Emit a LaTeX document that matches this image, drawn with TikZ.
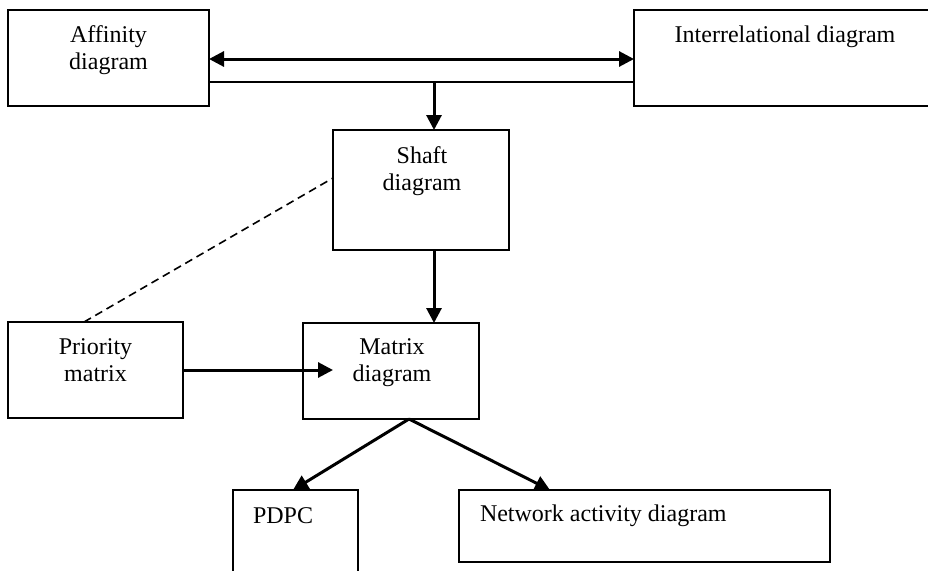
\documentclass[tikz,border=0pt]{standalone}
\usepackage{fontspec}
\setmainfont{Liberation Serif}
\usetikzlibrary{arrows.meta,calc}
\begin{document}
\begin{tikzpicture}[x=1pt,y=-1pt,
  box/.style={draw, line width=2pt, inner sep=0pt, outer sep=0pt},
  txt/.style={inner sep=0pt, outer sep=0pt, font=\fontsize{24pt}{27.6pt}\selectfont},
  tip/.tip={Triangle[length=15pt,width=15pt]},
  conn/.style={line width=3pt, -tip},
  twoway/.style={line width=3pt, tip-tip},
  rail/.style={line width=2pt},
  dashline/.style={line width=1.6pt, dash pattern=on 8pt off 5pt}]
\clip (0,0) rectangle (928,570);
\fill[white] (0,0) rectangle (928,570);

% boxes
\node[box, minimum width=201pt, minimum height=96pt]  (aff)   at (108.5,58) {};
\node[box, minimum width=302pt, minimum height=96pt]  (inter) at (785,58)   {};
\node[box, minimum width=176pt, minimum height=120pt] (shaft) at (421,190)  {};
\node[box, minimum width=175pt, minimum height=96pt]  (pri)   at (95.5,370) {};
\node[box, minimum width=176pt, minimum height=96pt]  (mat)   at (391,371)  {};
\node[box, minimum width=125pt, minimum height=120pt] (pdpc)  at (295.5,550) {};
\node[box, minimum width=371pt, minimum height=72pt]  (net)   at (644.5,526) {};

% labels
\node[txt, anchor=north, align=center] (aff-t)   at ($(aff.north)+(0,14)$)   {\rule{0pt}{18pt}Affinity\\diagram};
\node[txt, anchor=north, align=center] (inter-t) at ($(inter.north)+(0,14)$) {\rule{0pt}{18pt}Interrelational diagram};
\node[txt, anchor=north, align=center] (shaft-t) at ($(shaft.north)+(1,15)$) {\rule{0pt}{18pt}Shaft\\diagram};
\node[txt, anchor=north, align=center] (pri-t)   at ($(pri.north)+(0,14)$)   {\rule{0pt}{18pt}Priority\\matrix};
\node[txt, anchor=north, align=center] (mat-t)   at ($(mat.north)+(1,13)$)   {\rule{0pt}{18pt}Matrix\\diagram};
\node[txt, anchor=north west] (pdpc-t) at ($(pdpc.north west)+(20,15)$) {\rule{0pt}{18pt}PDPC};
\node[txt, anchor=north west] (net-t)  at ($(net.north west)+(21,13)$)  {\rule{0pt}{18pt}Network activity diagram};

% connectors
\draw[twoway] ($(aff.east)+(0,1)$) -- ($(inter.west)+(0,1)$);
\draw[rail] ($(aff.south east)+(0,-24)$) -- ($(inter.south west)+(0,-24)$);
\coordinate (j) at (434,82);
\draw[conn] (j) -- (j |- shaft.north);
\draw[conn] (shaft.south -| j) -- (mat.north -| j);
\draw[conn] (pri.east) -- ($(pri.east -| mat.west)+(30,0)$);
\draw[dashline] ($(pri.north west)+(76,0)$) -- ($(shaft.north west)+(0,48)$);
\coordinate (apex) at ($(mat.south)+(18,0)$);
\draw[conn] (apex) -- ($(pdpc.north west)+(60,0)$);
\draw[conn] (apex) -- ($(net.north west)+(91,0)$);
\end{tikzpicture}
\end{document}
